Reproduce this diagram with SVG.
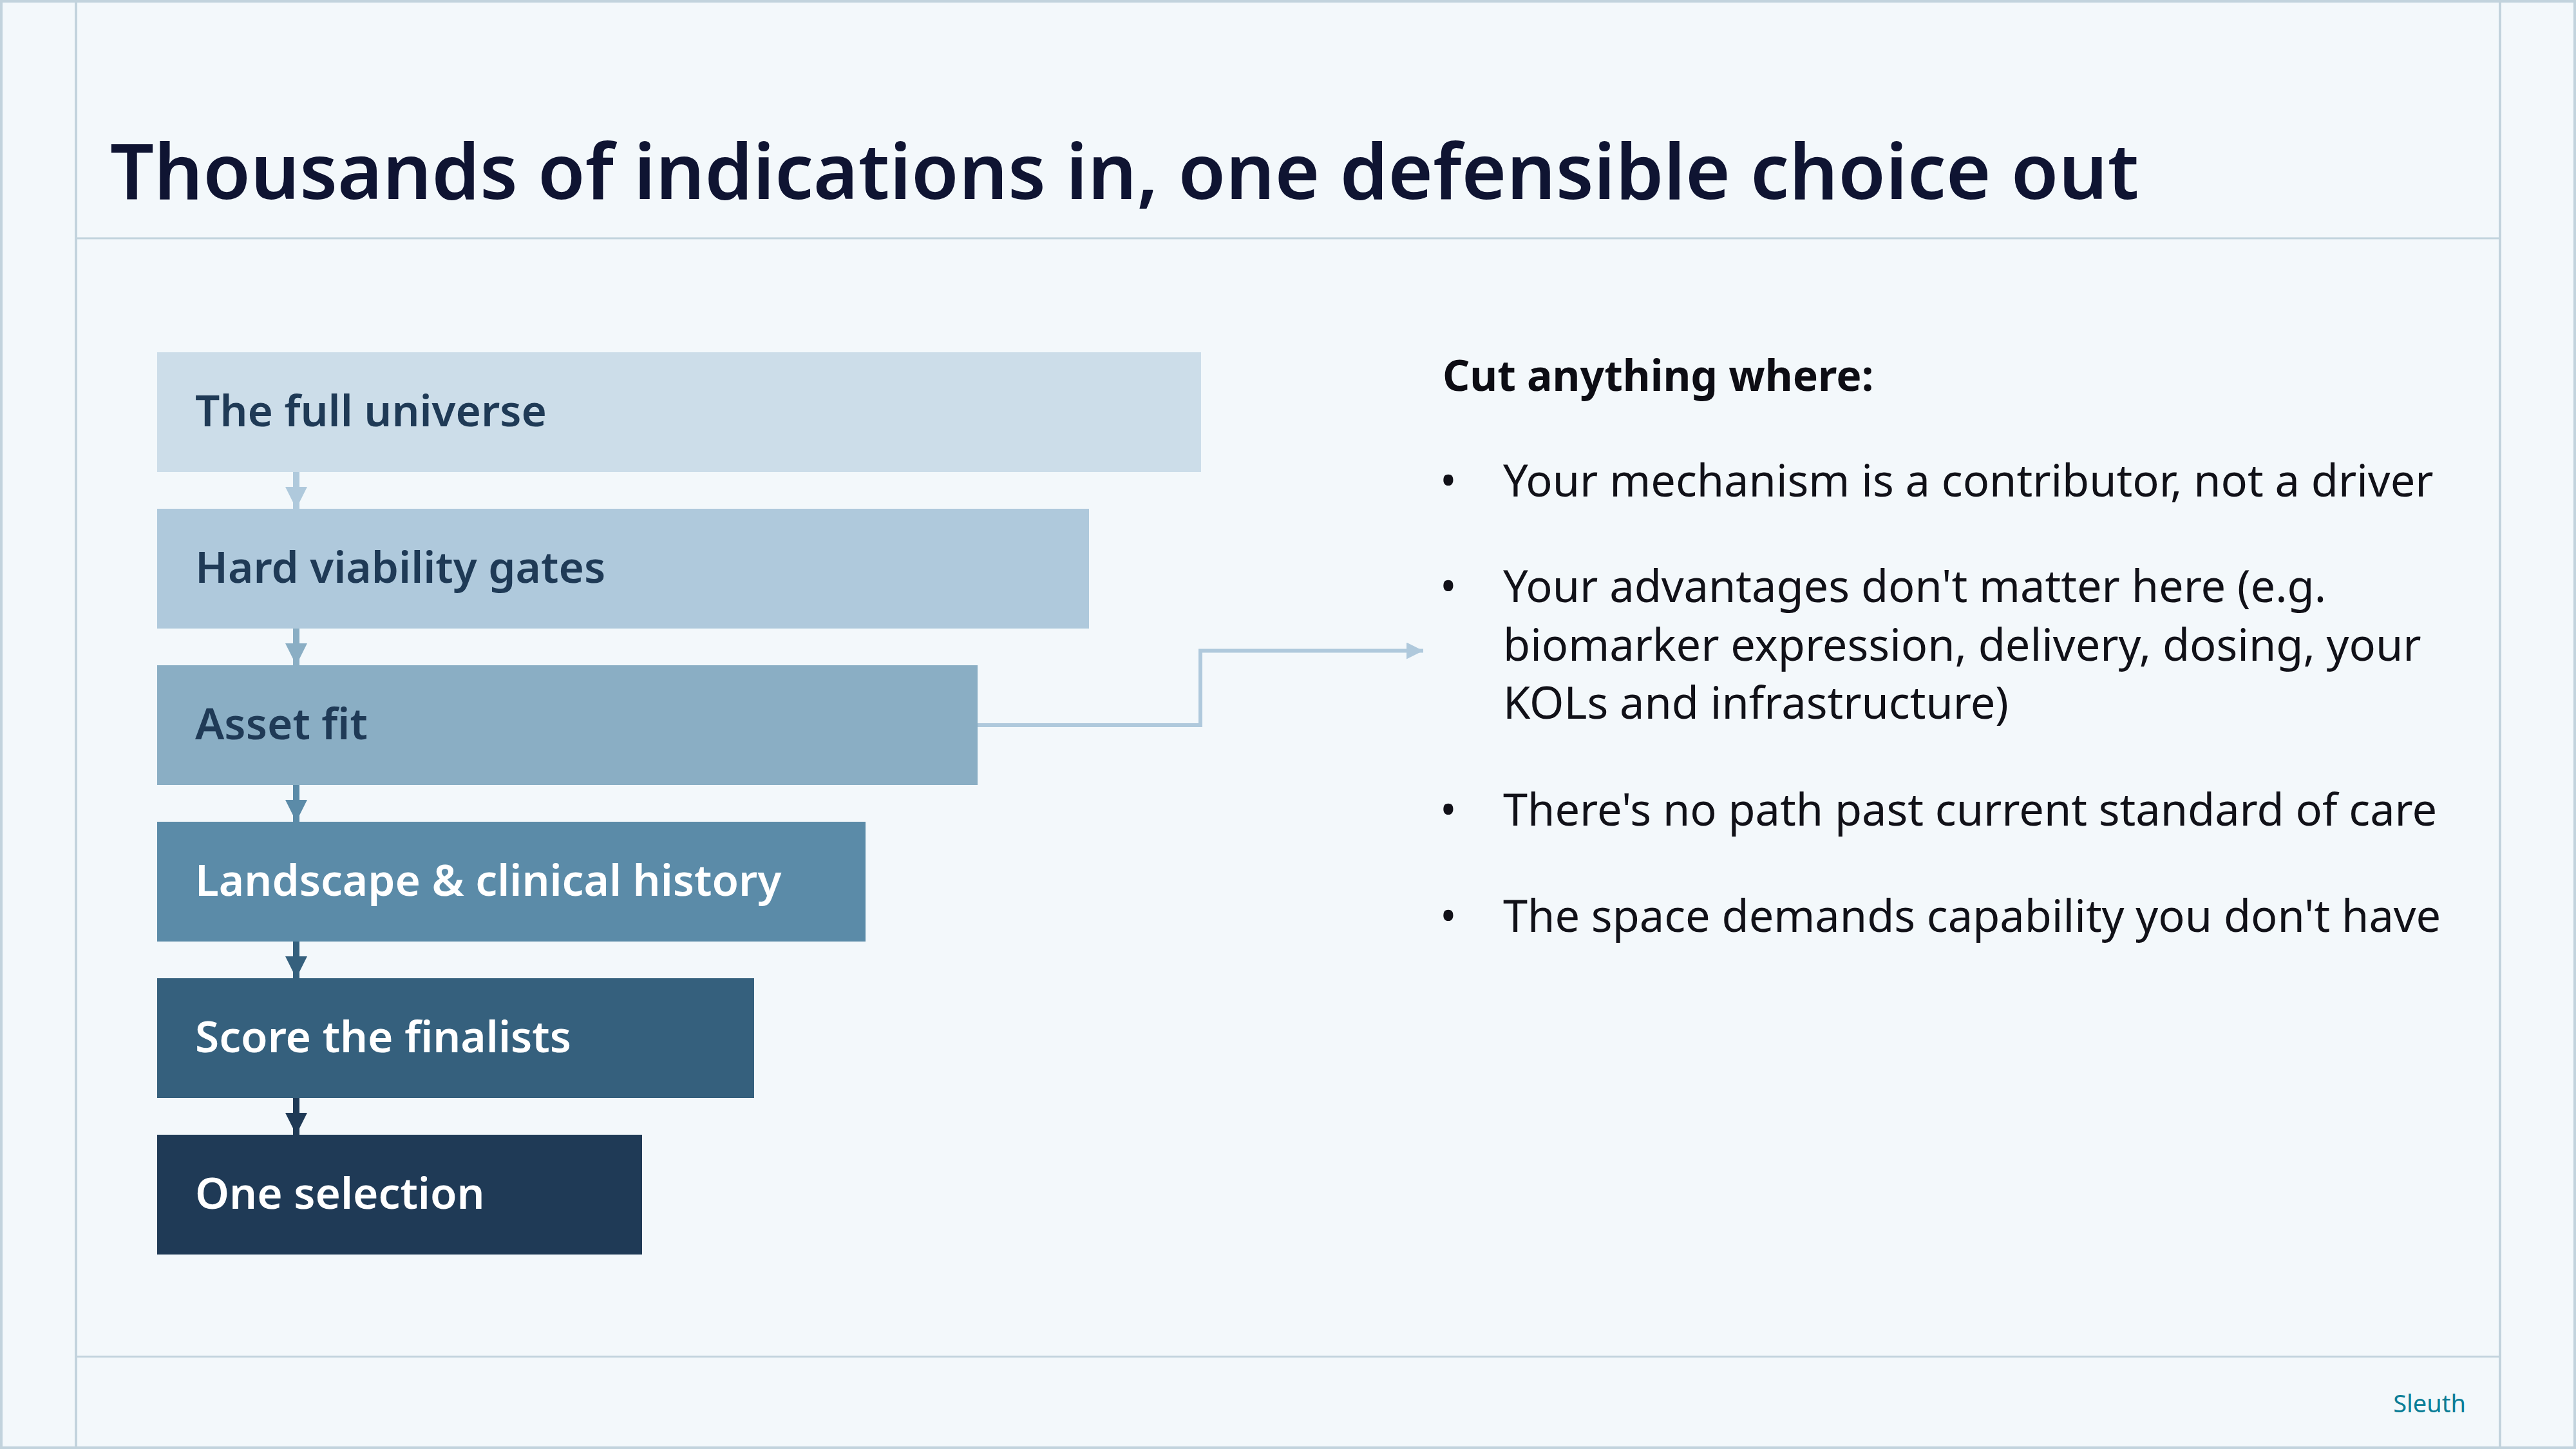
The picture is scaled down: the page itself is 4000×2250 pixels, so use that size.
<svg xmlns="http://www.w3.org/2000/svg" width="4000" height="2250" viewBox="0 0 4000 2250">
<defs>
<style>
.frame{stroke:#c2d3dd;fill:none}
.lbl{font-family:"Noto Sans","Open Sans","DejaVu Sans",sans-serif;font-weight:600;font-size:67.5px}
.dk{fill:#1f3a56}
.wt{fill:#ffffff}
.body{font-family:"Noto Sans","Open Sans","DejaVu Sans",sans-serif;font-size:68.5px;fill:#111118}
.head{font-family:"Noto Sans","Open Sans","DejaVu Sans",sans-serif;font-size:66px;font-weight:700;fill:#0d0d14}
.title{font-family:"Noto Sans","Open Sans","DejaVu Sans",sans-serif;font-weight:600;font-size:119.5px;fill:#0f1432}
</style>
<marker id="ah1" viewBox="0 0 10 10" refX="10" refY="5" markerUnits="userSpaceOnUse" markerWidth="38" markerHeight="34" orient="auto"><path d="M0,0 L10,5 L0,10 Z" fill="#afc9dc"/></marker>
<marker id="ah2" viewBox="0 0 10 10" refX="10" refY="5" markerUnits="userSpaceOnUse" markerWidth="38" markerHeight="34" orient="auto"><path d="M0,0 L10,5 L0,10 Z" fill="#8aaec4"/></marker>
<marker id="ah3" viewBox="0 0 10 10" refX="10" refY="5" markerUnits="userSpaceOnUse" markerWidth="38" markerHeight="34" orient="auto"><path d="M0,0 L10,5 L0,10 Z" fill="#5b8ba8"/></marker>
<marker id="ah4" viewBox="0 0 10 10" refX="10" refY="5" markerUnits="userSpaceOnUse" markerWidth="38" markerHeight="34" orient="auto"><path d="M0,0 L10,5 L0,10 Z" fill="#35607d"/></marker>
<marker id="ah5" viewBox="0 0 10 10" refX="10" refY="5" markerUnits="userSpaceOnUse" markerWidth="38" markerHeight="34" orient="auto"><path d="M0,0 L10,5 L0,10 Z" fill="#1f3a56"/></marker>
<marker id="ahc" viewBox="0 0 10 10" refX="10" refY="5" markerUnits="userSpaceOnUse" markerWidth="26" markerHeight="26" orient="auto"><path d="M0,0 L10,5 L0,10 Z" fill="#afc9dc"/></marker>
</defs>
<rect x="0" y="0" width="4000" height="2250" fill="#f3f8fb"/>
<g id="frame">
<rect class="frame" x="2" y="2" width="3996" height="2246" stroke-width="4"/>
<line class="frame" x1="118" y1="0" x2="118" y2="2250" stroke-width="4"/>
<line class="frame" x1="3882" y1="0" x2="3882" y2="2250" stroke-width="4"/>
<line class="frame" x1="118" y1="370" x2="3882" y2="370" stroke-width="3"/>
<line class="frame" x1="118" y1="2106.5" x2="3882" y2="2106.5" stroke-width="3"/>
</g>
<text class="title" x="171" y="309">Thousands of indications in, one defensible choice out</text>
<g id="connectors" fill="none">
<line x1="460" y1="733" x2="460" y2="790" stroke="#afc9dc" stroke-width="10" marker-end="url(#ah1)"/>
<line x1="460" y1="976" x2="460" y2="1033" stroke="#8aaec4" stroke-width="10" marker-end="url(#ah2)"/>
<line x1="460" y1="1219" x2="460" y2="1276" stroke="#5b8ba8" stroke-width="10" marker-end="url(#ah3)"/>
<line x1="460" y1="1462" x2="460" y2="1519" stroke="#35607d" stroke-width="10" marker-end="url(#ah4)"/>
<line x1="460" y1="1705" x2="460" y2="1762" stroke="#1f3a56" stroke-width="10" marker-end="url(#ah5)"/>
<polyline points="1518,1126 1864,1126 1864,1010.5 2210,1010.5" stroke="#afc9dc" stroke-width="6" marker-end="url(#ahc)"/>
</g>
<g id="n1"><rect x="244" y="547" width="1621" height="186" fill="#ccdde9"/><text class="lbl dk" x="303" y="662">The full universe</text></g>
<g id="n2"><rect x="244" y="790" width="1447" height="186" fill="#afc9dc"/><text class="lbl dk" x="303" y="905">Hard viability gates</text></g>
<g id="n3"><rect x="244" y="1033" width="1274" height="186" fill="#8aaec4"/><text class="lbl dk" x="303" y="1148">Asset fit</text></g>
<g id="n4"><rect x="244" y="1276" width="1100" height="186" fill="#5b8ba8"/><text class="lbl wt" x="303" y="1391">Landscape &amp; clinical history</text></g>
<g id="n5"><rect x="244" y="1519" width="927" height="186" fill="#35607d"/><text class="lbl wt" x="303" y="1634">Score the finalists</text></g>
<g id="n6"><rect x="244" y="1762" width="753" height="186" fill="#1f3a56"/><text class="lbl wt" x="303" y="1877">One selection</text></g>
<g id="criteria">
<text class="head" x="2240" y="607">Cut anything where:</text>
<text class="body" x="2236" y="771">•</text><text class="body" x="2334" y="771">Your mechanism is a contributor, not a driver</text>
<text class="body" x="2236" y="935">•</text><text class="body" x="2334" y="935">Your advantages don't matter here (e.g.</text>
<text class="body" x="2334" y="1026">biomarker expression, delivery, dosing, your</text>
<text class="body" x="2334" y="1116">KOLs and infrastructure)</text>
<text class="body" x="2236" y="1282">•</text><text class="body" x="2334" y="1282">There's no path past current standard of care</text>
<text class="body" x="2236" y="1447">•</text><text class="body" x="2334" y="1447">The space demands capability you don't have</text>
</g>
<text x="3829" y="2193" text-anchor="end" font-family="Noto Sans, Open Sans, sans-serif" font-size="38" fill="#0a7d96">Sleuth</text>
</svg>
